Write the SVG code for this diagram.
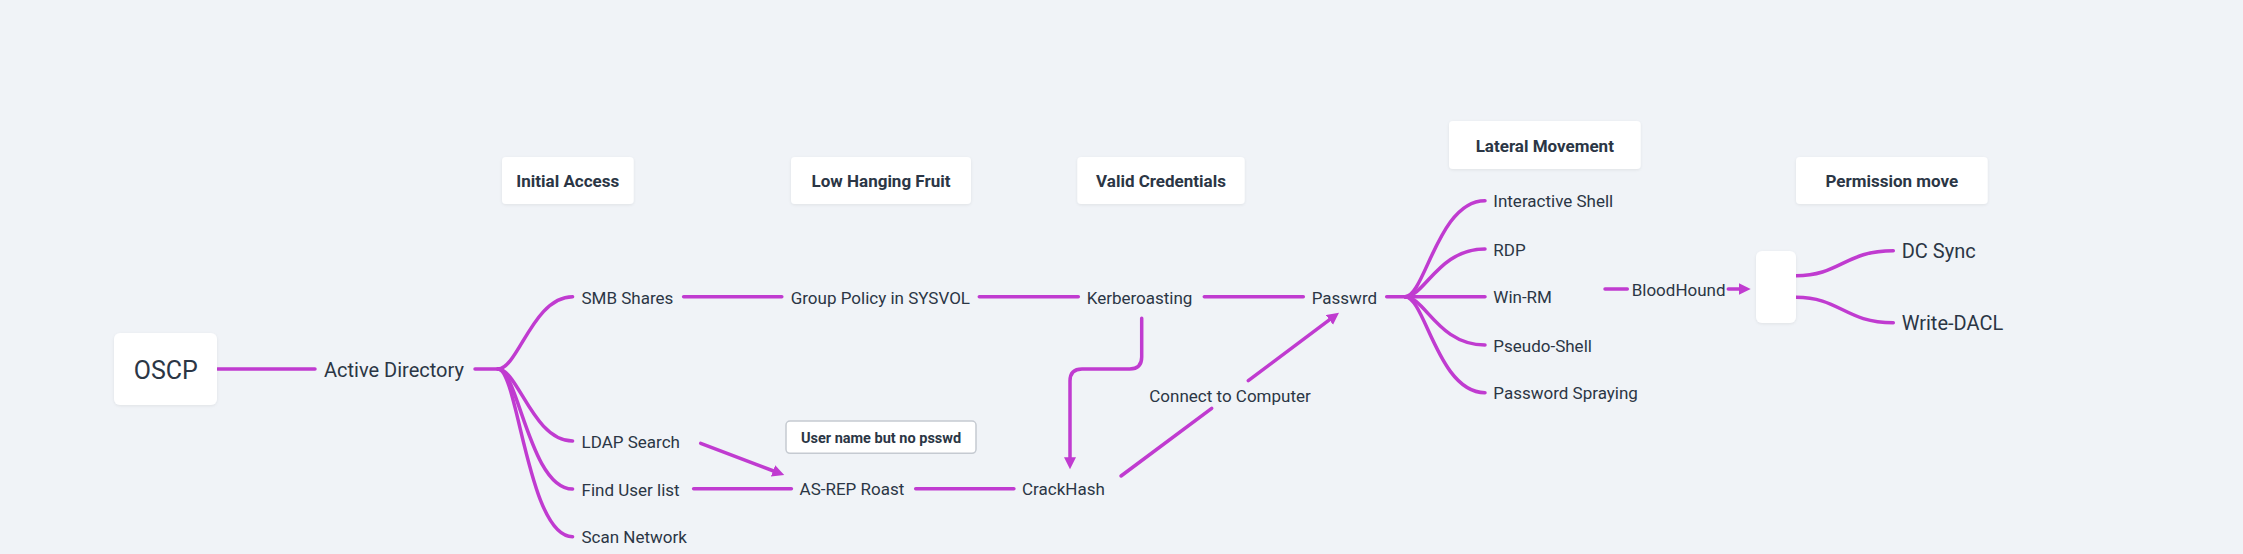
<svg xmlns="http://www.w3.org/2000/svg" width="2243" height="554" viewBox="0 0 2243 554">
<style>
.bg{fill:#f0f3f7}
.box{fill:#ffffff;filter:url(#sh)}
.t{font-family:Roboto,"Liberation Sans",sans-serif;font-size:17px;fill:#2b3645}
.h{font-family:Roboto,"Liberation Sans",sans-serif;font-size:17px;font-weight:bold;fill:#2b3645;text-anchor:middle}
.c{fill:none;stroke:#c03bd0;stroke-width:3.5;stroke-linecap:round;stroke-linejoin:round}
</style>
<defs>
<filter id="sh" x="-20%" y="-20%" width="140%" height="140%"><feDropShadow dx="0" dy="1" stdDeviation="1.5" flood-color="#000" flood-opacity="0.07"/></filter>
<marker id="ah" markerUnits="userSpaceOnUse" markerWidth="14" markerHeight="14" refX="2" refY="6" orient="auto"><path d="M0,0 L12,6 L0,12 z" fill="#c03bd0"/></marker>
</defs>
<rect class="bg" x="0" y="0" width="2243" height="554"/>
<g id="connectors">
<path class="c" d="M217.5,369 H315"/>
<path class="c" d="M475,369 H498"/>
<path class="c" d="M498,369 C518,369 533,296.7 572.6,296.7"/>
<path class="c" d="M498,369 C518,369 533,441 572.6,441"/>
<path class="c" d="M498,369 C518,369 530,489 572.6,489"/>
<path class="c" d="M498,369 C518,369 528,536.7 572.6,536.7"/>
<path class="c" d="M683.6,296.7 H781.8"/>
<path class="c" d="M979.3,296.7 H1078.3"/>
<path class="c" d="M1204.3,296.7 H1303.3"/>
<path class="c" d="M1386.7,296.7 H1405"/>
<path class="c" d="M1405,296.7 C1425,296.7 1438,200.7 1485,200.7"/>
<path class="c" d="M1405,296.7 C1425,296.7 1438,249 1485,249"/>
<path class="c" d="M1405,296.7 H1485"/>
<path class="c" d="M1405,296.7 C1425,296.7 1438,345 1485,345"/>
<path class="c" d="M1405,296.7 C1425,296.7 1438,392.7 1485,392.7"/>
<path class="c" d="M700.7,443.3 L774.9,471.5" marker-end="url(#ah)"/>
<path class="c" d="M693.6,488.7 H791.4"/>
<path class="c" d="M915.7,488.7 H1013.9"/>
<path class="c" d="M1141.7,318.3 V357 Q1141.7,369 1129.7,369 H1082 Q1070,369 1070,381 V459.3" marker-end="url(#ah)"/>
<path class="c" d="M1121,476 L1211.7,408.3"/>
<path class="c" d="M1248.3,380.7 L1331,318.7" marker-end="url(#ah)"/>
<path class="c" d="M1605,289 H1627.3"/>
<path class="c" d="M1728.3,289 H1740.7" marker-end="url(#ah)"/>
<path class="c" d="M1796,275.7 C1840,275.7 1845,250.7 1893.3,250.7"/>
<path class="c" d="M1796,297.3 C1840,297.3 1845,322.7 1893.3,322.7"/>
</g>
<g id="n-oscp"><rect class="box" x="114" y="333" width="103" height="72" rx="6"/><text class="t" x="165.8" y="378.5" style="font-size:25px;text-anchor:middle">OSCP</text></g>
<g id="n-ad"><text class="t" x="324" y="376.5" style="font-size:20px">Active Directory</text></g>
<g id="n-smb"><text class="t" x="581.5" y="303.5">SMB Shares</text></g>
<g id="n-ldap"><text class="t" x="581.5" y="447.5">LDAP Search</text></g>
<g id="n-find"><text class="t" x="581.5" y="495.5">Find User list</text></g>
<g id="n-scan"><text class="t" x="581.5" y="543">Scan Network</text></g>
<g id="n-gp"><text class="t" x="790.7" y="303.5">Group Policy in SYSVOL</text></g>
<g id="n-kerb"><text class="t" x="1086.7" y="303.5">Kerberoasting</text></g>
<g id="n-pass"><text class="t" x="1311.7" y="303.5">Passwrd</text></g>
<g id="n-asrep"><text class="t" x="799.6" y="495">AS-REP Roast</text></g>
<g id="n-crack"><text class="t" x="1022" y="495">CrackHash</text></g>
<g id="n-connect"><text class="t" x="1149.3" y="401.5">Connect to Computer</text></g>
<g id="n-ishell"><text class="t" x="1493.3" y="207.2">Interactive Shell</text></g>
<g id="n-rdp"><text class="t" x="1493.3" y="255.5">RDP</text></g>
<g id="n-winrm"><text class="t" x="1493.3" y="303.2">Win-RM</text></g>
<g id="n-pshell"><text class="t" x="1493.3" y="351.5">Pseudo-Shell</text></g>
<g id="n-spray"><text class="t" x="1493.3" y="399.2">Password Spraying</text></g>
<g id="n-blood"><text class="t" x="1631.7" y="295.5">BloodHound</text></g>
<g id="n-empty"><rect class="box" x="1756" y="251" width="40" height="72" rx="6"/></g>
<g id="n-dcsync"><text class="t" x="1901.7" y="258" style="font-size:20px">DC Sync</text></g>
<g id="n-dacl"><text class="t" x="1901.7" y="330" style="font-size:20px">Write-DACL</text></g>
<g id="h-initial"><rect class="box" x="502" y="157" width="131.7" height="47" rx="4"/><text class="h" x="567.8" y="186.5">Initial Access</text></g>
<g id="h-low"><rect class="box" x="791" y="157" width="180" height="47" rx="4"/><text class="h" x="881" y="186.5">Low Hanging Fruit</text></g>
<g id="h-valid"><rect class="box" x="1077.3" y="157" width="167.4" height="47" rx="4"/><text class="h" x="1161" y="186.5">Valid Credentials</text></g>
<g id="h-lateral"><rect class="box" x="1449" y="121" width="191.7" height="48" rx="4"/><text class="h" x="1544.8" y="151.5">Lateral Movement</text></g>
<g id="h-perm"><rect class="box" x="1796" y="157" width="191.7" height="47" rx="4"/><text class="h" x="1891.8" y="186.5">Permission move</text></g>
<g id="h-user"><rect x="786" y="421" width="190" height="32.3" rx="4" fill="#ffffff" stroke="#c5cad1" stroke-width="1.5"/><text class="h" x="881" y="442.5" style="font-size:14.5px">User name but no psswd</text></g>
</svg>
